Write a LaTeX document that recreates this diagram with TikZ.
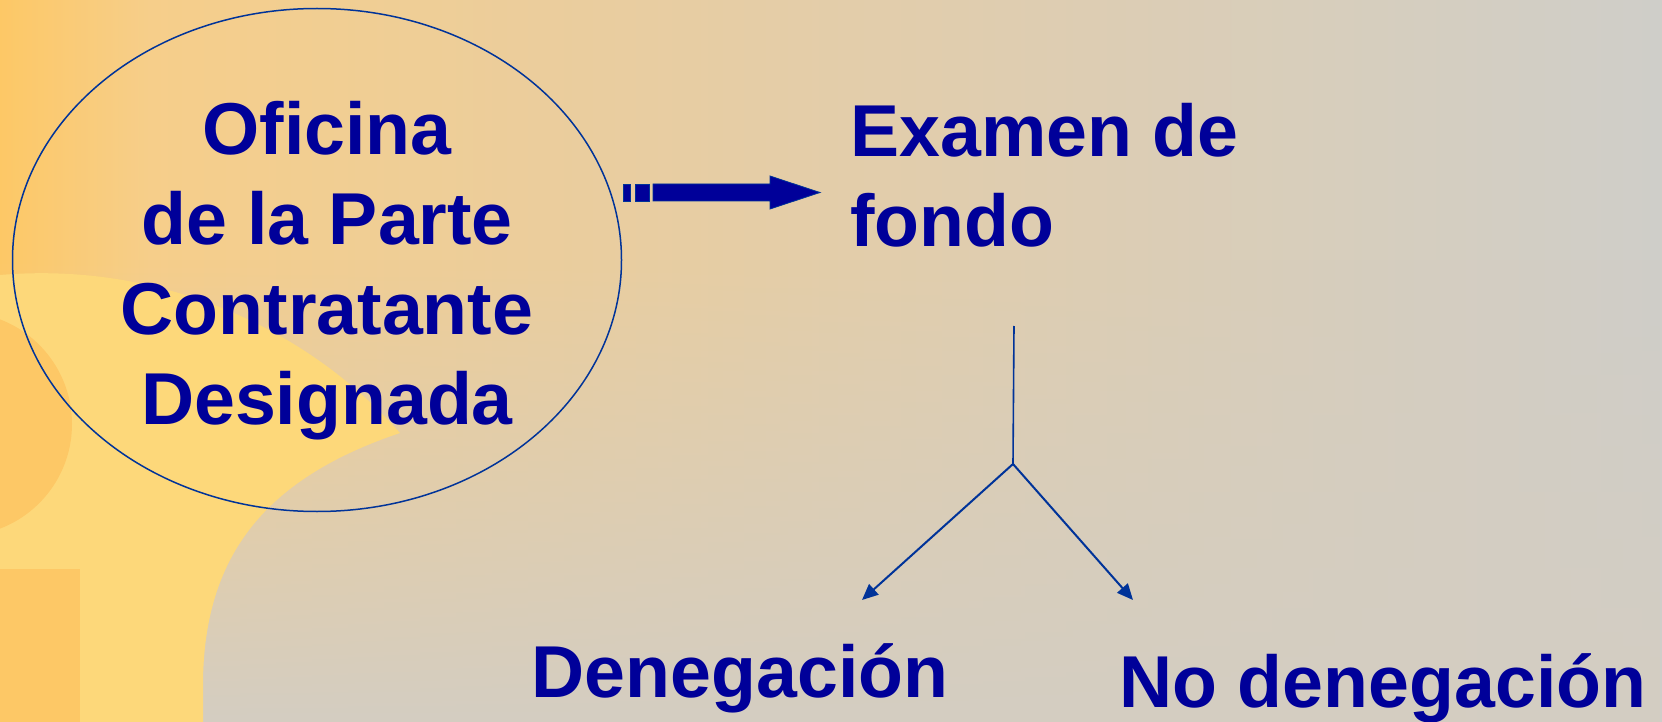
\documentclass[tikz,border=0pt]{standalone}
\usepackage{fontspec}
\setmainfont{Liberation Sans}
\usetikzlibrary{arrows.meta, shapes.geometric, fadings, positioning}

\definecolor{txtblue}{RGB}{0,0,153}
\definecolor{lineblue}{RGB}{0,51,153}
\definecolor{bgorange}{RGB}{253,200,102}
\definecolor{bgpeach}{RGB}{246,206,138}
\definecolor{bgtan}{RGB}{228,205,168}
\definecolor{bggrey}{RGB}{207,206,201}
\definecolor{bgyellow}{RGB}{253,216,122}
\definecolor{bgstone}{RGB}{212,205,194}

\pgfdeclarehorizontalshading{slide}{100bp}{color(0bp)=(bgorange); color(25bp)=(bgorange); color(29.5bp)=(bgpeach); color(49bp)=(bgtan); color(75bp)=(bggrey); color(100bp)=(bggrey)}

\begin{document}
\begin{tikzpicture}[x=0.5pt, y=-0.5pt,
  txt/.style={text=txtblue, font=\fontsize{36.75}{45}\selectfont\bfseries, inner sep=0pt},
  oval/.style={ellipse, draw=lineblue, line width=0.75pt, minimum width=304.5pt, minimum height=251.5pt, inner sep=0pt},
  stripe/.style={fill=txtblue, draw=lineblue, line width=0.4pt},
  branch/.style={draw=lineblue, line width=1pt, -{Triangle[length=8pt, width=7pt]}}]

  \useasboundingbox (0,0) rectangle (1662,722);

  % background
  \shade[shading=slide] (0,0) rectangle (1662,722);
  \fill[bgstone, path fading=north] (0,260) rectangle (1662,722);
  \fill[bgyellow] (0,275) .. controls (150,262) and (300,320) .. (400,433)
    .. controls (260,480) and (205,560) .. (203,680) -- (203,722) -- (0,722) -- cycle;
  \fill[bgorange] (-40,424) circle (112);
  \fill[bgorange] (0,569) rectangle (80,722);

  % office
  \node[oval] (oval) at (317,260) {};
  \node[txt, align=center, anchor=north] (oficina) at (327,101) {Oficina\\de la Parte\\Contratante\\Designada};

  % examination
  \node[txt, align=left, anchor=north west] (examen) at (850,103) {Examen de\\fondo};

  % striped arrow
  \coordinate (arrowtip) at (820,192.5);
  \filldraw[stripe] (623,184) rectangle (630,201);
  \filldraw[stripe] (635,184) rectangle (649,201);
  \filldraw[stripe] (arrowtip) -- ++(-50,-16.5) -- ++(0,8) -- ++(-117,0) -- ++(0,17) -- ++(117,0) -- ++(0,8) -- cycle;

  % outcomes
  \node[txt, anchor=base] (deneg) at (740,697) {Denegación};
  \node[txt, anchor=base] (nodeneg) at (1383,707) {No denegación};

  \coordinate (stem) at (1014,326);
  \coordinate (fork) at (1013,464);
  \coordinate (leftend) at (862,600);
  \coordinate (rightend) at (1133,600);
  \draw[lineblue, line width=0.8pt] (stem) -- (fork);
  \draw[branch] (fork) -- (leftend);
  \draw[branch] (fork) -- (rightend);

\end{tikzpicture}
\end{document}
